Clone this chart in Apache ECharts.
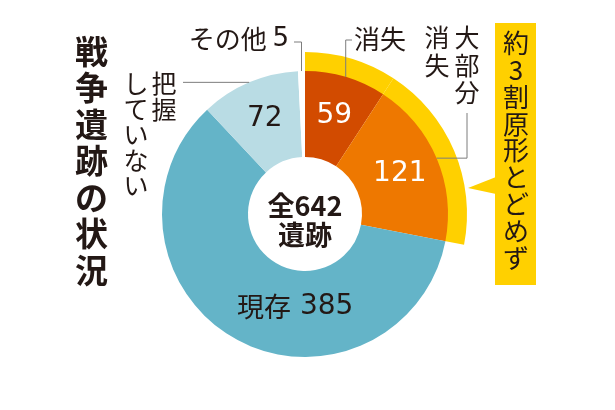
<!DOCTYPE html>
<html><head><meta charset="utf-8">
<script src="https://cdn.jsdelivr.net/npm/echarts@6/dist/echarts.min.js"></script>
<style>html,body{margin:0;padding:0;background:#fff}#c{width:615px;height:410px}</style>
</head><body><div id="c"></div>
<script>
// ---- data ----
const categories = ['消失', '大部分消失', '現存', '把握していない', 'その他'];
const values = [59, 121, 385, 72, 5];
const colors = ['#d24b00', '#ee7800', '#64b4c8', '#b9dce4', '#ffffff'];
const highlighted = [0, 1];            // slices wrapped by the yellow ring
const titleText = '戦争遺跡の状況';
const calloutText = '約3割原形とどめず';
const centerUnit = '遺跡';

// ---- derived ----
const total = values.reduce((a, b) => a + b, 0);
const NUM = '"DejaVu Sans","Noto Sans CJK JP",sans-serif';
const JP = '"Noto Sans CJK JP",sans-serif';
const INK = '#231815';
const LINE = '#7d7d7d';
const CENTER = [305, 214];
const R_IN = 57, R_OUT = 143, R_RING = 162;
const vert = s => s.split('').join('\n');

// inner labels
const innerText = (i) => {
  if (i === 2) return '{jp|' + categories[i] + '} ' + values[i];
  if (i === 4) return '';
  return String(values[i]);
};
const innerColor = ['#ffffff', '#ffffff', INK, INK, INK];

// outer label texts (vertical writing via rich rows)
function twoCol(right, left, cls) {
  const n = Math.max(right.length, left.length);
  const rows = [];
  for (let k = 0; k < n; k++) {
    rows.push('{' + cls + '|' + (left[k] || '　') + '}{' + cls + '|' + (right[k] || '　') + '}');
  }
  return rows.join('\n');
}
const outerText = [
  categories[0],
  twoCol('大部分', '消失', 'b'),
  '',
  twoCol('把握', 'していない', 'a'),
  categories[4] + ' {n|' + values[4] + '}'
];

const chart = echarts.init(document.getElementById('c'), null, {renderer: 'canvas'});

const mainData = values.map((v, i) => ({
  value: v, name: categories[i],
  itemStyle: {color: colors[i]},
  label: {show: i !== 4, formatter: innerText(i), color: innerColor[i]}
}));

const outerData = values.map((v, i) => ({
  value: v, name: categories[i],
  itemStyle: {color: 'rgba(0,0,0,0)'},
  label: {show: i !== 2, formatter: outerText[i]},
  labelLine: {show: i !== 2}
}));

const ringData = values.map((v, i) => ({
  value: v, name: categories[i],
  itemStyle: {color: highlighted.indexOf(i) >= 0 ? '#ffd000' : 'rgba(0,0,0,0)'}
}));

chart.setOption({
  animation: false,
  backgroundColor: '#ffffff',
  series: [
    {
      type: 'pie', center: CENTER, radius: [R_OUT - 1, R_RING], startAngle: 90, clockwise: true,
      silent: true, label: {show: false}, labelLine: {show: false}, data: ringData, z: 1
    },
    {
      type: 'pie', center: CENTER, radius: [R_IN, R_OUT], startAngle: 90, clockwise: true,
      silent: true, avoidLabelOverlap: false,
      label: {
        position: 'inside', fontFamily: NUM, fontSize: 28,
        rich: {jp: {fontFamily: JP, fontSize: 27, color: INK}}
      },
      labelLayout: function (p) {
        if (p.dataIndex === 2) return {dx: 40, dy: 3};
        return {};
      },
      data: mainData, z: 2
    },
    {
      type: 'pie', center: CENTER, radius: [R_IN, R_OUT], startAngle: 90, clockwise: true,
      silent: true, avoidLabelOverlap: false,
      label: {
        position: 'outside', fontFamily: JP, fontSize: 26, color: INK,
        rich: {
          a: {fontFamily: JP, fontSize: 25, color: INK, width: 28, align: 'center', lineHeight: 25.5},
          b: {fontFamily: JP, fontSize: 25, color: INK, width: 30, align: 'center', lineHeight: 27.5},
          n: {fontFamily: NUM, fontSize: 26, color: INK}
        }
      },
      labelLine: {show: true, lineStyle: {color: LINE, width: 1}},
      labelLayout: function (p) {
        const s = p.labelLinePoints && p.labelLinePoints[0];
        if (!s) return {};
        switch (p.dataIndex) {
          case 0: return {x: 354, y: 39, align: 'left', verticalAlign: 'middle',
                          labelLinePoints: [s, [s[0], 40], [352, 40]]};
          case 1: return {x: 422, y: 24, align: 'left', verticalAlign: 'top',
                          labelLinePoints: [s, [467, s[1]], [467, 113]]};
          case 3: return {x: 122, y: 71, align: 'left', verticalAlign: 'top',
                          labelLinePoints: [s, [216, s[1]], [183, s[1]]]};
          case 4: return {x: 289, y: 39, align: 'right', verticalAlign: 'middle',
                          labelLinePoints: [s, [s[0], 42], [294, 42]]};
        }
        return {};
      },
      data: outerData, z: 3
    }
  ],
  graphic: [
    {
      type: 'text', left: 75, top: 33, z: 10,
      style: {text: vert(titleText), font: 'bold 33px ' + JP, fill: INK, lineHeight: 36.5, align: 'center'}
    },
    {
      type: 'text', x: CENTER[0], y: 220, z: 10,
      style: {
        text: '全' + total + '\n' + centerUnit, font: 'bold 27px ' + JP, fill: INK,
        lineHeight: 29, align: 'center', verticalAlign: 'middle'
      }
    },
    {
      type: 'rect', shape: {x: 495, y: 23, width: 41, height: 262}, z: 5,
      style: {fill: '#ffd000'}
    },
    {
      type: 'polygon', shape: {points: [[496, 177], [468, 188], [496, 194]]}, z: 5,
      style: {fill: '#ffd000'}
    },
    {
      type: 'text', x: 516, y: 30, z: 10,
      style: {text: vert(calloutText), font: '26px ' + JP, fill: INK, lineHeight: 26.8, align: 'center', verticalAlign: 'top'}
    }
  ]
});
</script>
</body></html>
